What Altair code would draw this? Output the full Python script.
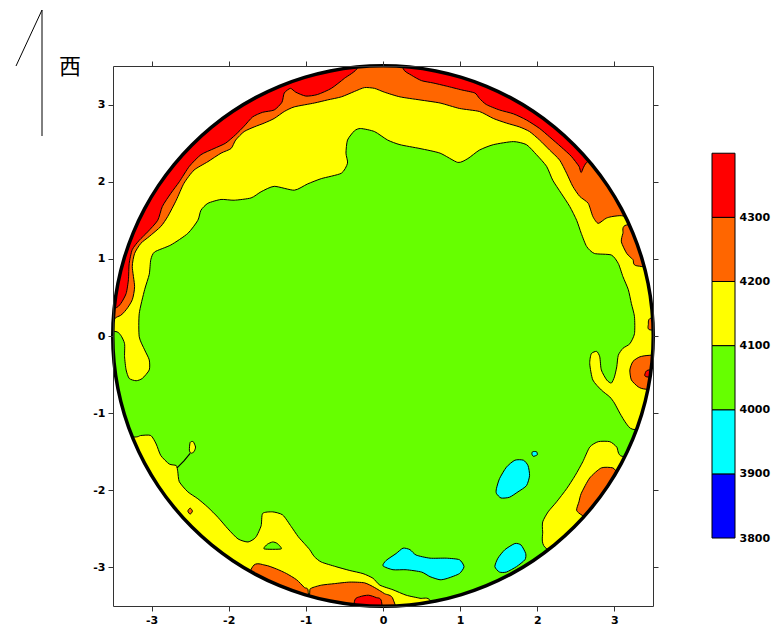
import altair as alt
import pandas as pd

# ---------------- colours / levels ----------------
RED, ORANGE, YELLOW, GREEN, CYAN, BLUE = "#FF0000", "#FF6600", "#FFFF00", "#66FF00", "#00FFFF", "#0000FF"
levels = [3800, 3900, 4000, 4100, 4200, 4300, 4400]
level_colors = [BLUE, CYAN, GREEN, YELLOW, ORANGE, RED]
tick_values = [-3, -2, -1, 0, 1, 2, 3]

# ---------------- contour regions (data units) ----------------
green_main = [
    (0.06, 2.54), (-0.11, 2.65), (-0.29, 2.69), (-0.37, 2.66), (-0.46, 2.54), (-0.48, 2.37), (-0.46, 2.24),
    (-0.54, 2.11), (-0.80, 2.04), (-0.98, 1.97), (-1.15, 1.89), (-1.41, 1.94), (-1.58, 1.87), (-1.71, 1.79),
    (-1.93, 1.76), (-2.10, 1.77), (-2.27, 1.72), (-2.36, 1.63), (-2.40, 1.50), (-2.53, 1.33), (-2.75, 1.18),
    (-2.96, 1.09), (-3.01, 0.99), (-3.03, 0.80), (-3.09, 0.60), (-3.16, 0.29), (-3.16, -0.01), (-3.09, -0.18),
    (-3.03, -0.31), (-3.03, -0.44), (-3.12, -0.55), (-3.20, -0.58), (-3.29, -0.55), (-3.33, -0.44),
    (-3.35, -0.27), (-3.35, -0.10), (-3.40, 0.01), (-3.48, 0.06), (-3.9, 0.05), (-3.9, -1.28), (-3.24, -1.31),
    (-3.14, -1.29), (-3.01, -1.29), (-2.94, -1.40), (-2.88, -1.55), (-2.77, -1.66), (-2.68, -1.68),
    (-2.66, -1.76), (-2.64, -1.89), (-2.53, -2.02), (-2.40, -2.11), (-2.27, -2.22), (-2.14, -2.35),
    (-2.01, -2.50), (-1.88, -2.63), (-1.75, -2.67), (-1.65, -2.61), (-1.58, -2.46), (-1.56, -2.30),
    (-1.43, -2.28), (-1.30, -2.32), (-1.19, -2.47), (-1.10, -2.60), (-1.02, -2.69), (-0.95, -2.77),
    (-0.89, -2.86), (-0.80, -2.93), (-0.61, -2.99), (-0.43, -3.04), (-0.26, -3.08), (-0.13, -3.14),
    (-0.04, -3.23), (0.13, -3.29), (0.30, -3.36), (0.48, -3.40), (0.61, -3.43), (0.7, -3.9), (1.7, -3.8),
    (2.6, -3.1), (2.10, -2.74), (2.07, -2.54), (2.07, -2.41), (2.14, -2.28), (2.25, -2.15), (2.38, -1.98),
    (2.49, -1.81), (2.59, -1.63), (2.68, -1.44), (2.79, -1.37), (2.94, -1.37), (3.03, -1.44), (3.10, -1.56),
    (3.6, -1.55), (3.6, -1.22), (3.24, -1.21), (3.15, -1.13), (3.07, -1.00), (3.00, -0.87), (2.94, -0.79),
    (2.83, -0.70), (2.72, -0.57), (2.68, -0.36), (2.70, -0.23), (2.77, -0.20), (2.81, -0.27), (2.83, -0.44),
    (2.90, -0.57), (2.96, -0.61), (3.00, -0.53), (3.03, -0.40), (3.05, -0.25), (3.11, -0.16), (3.20, -0.10),
    (3.26, 0.03), (3.26, 0.25), (3.22, 0.42), (3.18, 0.60), (3.11, 0.77), (3.05, 0.94), (2.96, 1.05),
    (2.74, 1.07), (2.64, 1.16), (2.57, 1.33), (2.51, 1.50), (2.42, 1.68), (2.31, 1.85), (2.20, 2.02),
    (2.12, 2.20), (1.99, 2.35), (1.86, 2.48), (1.69, 2.52), (1.43, 2.48), (1.25, 2.41), (1.10, 2.30),
    (0.97, 2.25), (0.74, 2.37), (0.48, 2.43), (0.22, 2.48),
]
green_isle = [(-1.54, -2.76), (-1.50, -2.70), (-1.43, -2.67), (-1.37, -2.69), (-1.32, -2.76)]

orange_top = [
    (-3.8, 0.25), (-3.44, 0.25), (-3.33, 0.34), (-3.25, 0.47), (-3.22, 0.64), (-3.25, 0.90), (-3.22, 1.07),
    (-3.14, 1.20), (-3.03, 1.29), (-2.88, 1.42), (-2.79, 1.55), (-2.68, 1.76), (-2.58, 1.98), (-2.45, 2.15),
    (-2.27, 2.26), (-2.10, 2.37), (-1.97, 2.43), (-1.91, 2.54), (-1.80, 2.65), (-1.67, 2.71), (-1.54, 2.76),
    (-1.41, 2.82), (-1.28, 2.91), (-1.15, 2.97), (-0.89, 3.02), (-0.72, 3.06), (-0.54, 3.10), (-0.37, 3.17),
    (-0.24, 3.22), (-0.11, 3.21), (0.02, 3.16), (0.22, 3.10), (0.48, 3.06), (0.74, 3.02), (0.99, 2.95),
    (1.25, 2.91), (1.43, 2.82), (1.60, 2.76), (1.77, 2.71), (1.90, 2.65), (2.03, 2.54), (2.16, 2.41),
    (2.29, 2.28), (2.38, 2.11), (2.46, 1.94), (2.55, 1.81), (2.66, 1.72), (2.72, 1.55), (2.79, 1.46),
    (2.90, 1.53), (3.07, 1.56), (3.8, 1.6), (3.8, 3.8), (-3.8, 3.8),
]
orange_right_top = [(3.16, 1.44), (3.11, 1.33), (3.09, 1.22), (3.16, 1.07), (3.24, 0.99), (3.29, 0.91),
                    (3.8, 0.9), (3.8, 1.45)]
orange_right_mid = [(3.46, -0.25), (3.33, -0.27), (3.24, -0.33), (3.20, -0.44), (3.22, -0.57), (3.31, -0.66),
                    (3.41, -0.69), (3.8, -0.7), (3.8, -0.25)]
orange_right_sliver = [(3.47, 0.23), (3.44, 0.15), (3.46, 0.08), (3.8, 0.08), (3.8, 0.23)]
orange_lower_right = [(2.59, -2.33), (2.51, -2.26), (2.54, -2.15), (2.57, -2.04), (2.68, -1.84), (2.83, -1.71),
                      (2.98, -1.71), (3.06, -1.78), (3.4, -1.9), (2.9, -2.5)]
orange_bottom_left = [(-1.69, -2.99), (-1.53, -2.97), (-1.38, -3.02), (-1.25, -3.08), (-1.12, -3.16),
                      (-1.02, -3.26), (-0.97, -3.31), (-1.0, -3.8), (-1.9, -3.6)]
orange_bottom_right = [(-0.95, -3.33), (-0.93, -3.27), (-0.80, -3.23), (-0.63, -3.21), (-0.43, -3.19),
                       (-0.24, -3.20), (-0.11, -3.26), (0.02, -3.34), (0.13, -3.41), (0.2, -3.9), (-0.95, -3.9)]
orange_dot = [(-2.50, -2.23), (-2.47, -2.27), (-2.50, -2.31), (-2.53, -2.27)]

red_top_left = [
    (-0.33, 3.48), (-0.50, 3.34), (-0.67, 3.21), (-0.85, 3.13), (-1.00, 3.11), (-1.13, 3.16), (-1.20, 3.21),
    (-1.28, 3.15), (-1.31, 3.03), (-1.41, 2.93), (-1.56, 2.90), (-1.69, 2.84), (-1.80, 2.72), (-1.91, 2.61),
    (-2.04, 2.50), (-2.19, 2.43), (-2.36, 2.35), (-2.51, 2.20), (-2.64, 2.00), (-2.75, 1.85), (-2.86, 1.68),
    (-2.92, 1.50), (-3.05, 1.35), (-3.16, 1.24), (-3.25, 1.12), (-3.29, 0.94), (-3.30, 0.73), (-3.33, 0.55),
    (-3.40, 0.42), (-3.48, 0.36), (-3.8, 0.35), (-3.8, 3.8), (-0.35, 3.8),
]
red_top_right = [
    (0.26, 3.47), (0.37, 3.38), (0.50, 3.31), (0.65, 3.28), (0.82, 3.24), (1.02, 3.19), (1.19, 3.15),
    (1.25, 3.08), (1.34, 3.00), (1.51, 2.93), (1.69, 2.88), (1.86, 2.80), (2.03, 2.69), (2.16, 2.58),
    (2.31, 2.45), (2.44, 2.33), (2.54, 2.20), (2.57, 2.12), (2.64, 2.25), (3.0, 2.6), (0.26, 3.8),
]
red_bottom = [(-0.37, -3.44), (-0.30, -3.38), (-0.19, -3.36), (-0.09, -3.39), (-0.02, -3.44), (0.0, -3.9),
              (-0.4, -3.9)]
red_right_dot = [(3.45, -0.44), (3.40, -0.48), (3.42, -0.53), (3.8, -0.55), (3.8, -0.43)]

yellow_isle = [(-2.50, -1.38), (-2.46, -1.37), (-2.43, -1.44), (-2.45, -1.50), (-2.49, -1.52), (-2.51, -1.48)]
yellow_filament = [(-2.67, -1.71), (-2.58, -1.62), (-2.50, -1.52)]

cyan_a = [(1.47, -1.98), (1.51, -1.85), (1.60, -1.70), (1.71, -1.61), (1.82, -1.61), (1.88, -1.68),
          (1.90, -1.81), (1.86, -1.94), (1.75, -2.02), (1.64, -2.09), (1.53, -2.10), (1.47, -2.04)]
cyan_dot = [(1.94, -1.50), (1.99, -1.50), (2.00, -1.54), (1.95, -1.56), (1.93, -1.53)]
cyan_b = [(0.00, -2.98), (0.04, -2.91), (0.17, -2.82), (0.26, -2.75), (0.35, -2.77), (0.43, -2.84),
          (0.61, -2.88), (0.82, -2.88), (0.99, -2.90), (1.05, -2.99), (0.99, -3.08), (0.84, -3.14),
          (0.74, -3.16), (0.61, -3.12), (0.50, -3.06), (0.30, -3.03), (0.13, -3.03)]
cyan_c = [(1.45, -2.99), (1.49, -2.88), (1.58, -2.77), (1.71, -2.69), (1.79, -2.71), (1.85, -2.82),
          (1.84, -2.90), (1.73, -2.99), (1.60, -3.06), (1.51, -3.06)]

wafer_center = pd.DataFrame({"x": [0.0], "y": [0.0]})

# ---------------- helpers ----------------
SCALE = alt.Scale(domain=[-3.5, 3.5], nice=False, zero=False)
FRAME = "#333333"
LABEL_FONT = "DejaVu Sans"


def frame(polys):
    rows = []
    for pid, pts in enumerate(polys):
        for i, (x, y) in enumerate(pts):
            rows.append({"pid": pid, "i": i, "x": x, "y": y})
    return pd.DataFrame(rows)


def xy(xaxis=None, yaxis=None):
    return dict(
        x=alt.X("x:Q", scale=SCALE, axis=xaxis, title=None),
        y=alt.Y("y:Q", scale=SCALE, axis=yaxis, title=None),
    )


def filled(polys, color):
    return alt.Chart(frame(polys)).mark_line(
        interpolate="cardinal-closed", tension=0.35, fill=color, stroke="black",
        strokeWidth=1, strokeJoin="round", clip=True,
    ).encode(detail="pid:N", order="i:Q", **xy())


def ring(r_out, r_in, color):
    return alt.Chart(wafer_center).mark_arc(
        theta=0, theta2=6.2832, radius=r_out, radius2=r_in, fill=color
    ).encode(**xy())


R = 270  # pixel radius of the 3.5-unit wafer in a 540 px plot

disc = alt.Chart(wafer_center).mark_arc(theta=0, theta2=6.2832, radius=R, fill=YELLOW).encode(**xy())
orange_l = filled([orange_top, orange_right_top, orange_right_mid, orange_right_sliver, orange_lower_right,
                   orange_bottom_left, orange_bottom_right, orange_dot], ORANGE)
red_l = filled([red_top_left, red_top_right, red_bottom, red_right_dot], RED)
green_l = filled([green_main, green_isle], GREEN)
yellow_l = filled([yellow_isle], YELLOW)
filament = alt.Chart(frame([yellow_filament])).mark_line(color="black", strokeWidth=1.2).encode(
    detail="pid:N", order="i:Q", **xy())
cyan_l = filled([cyan_a, cyan_dot, cyan_b, cyan_c], CYAN)
mask = ring(470, R, "white")
rim = ring(R + 2, R - 1.5, "black")

common_axis = dict(values=tick_values, tickSize=5, tickColor=FRAME, tickWidth=1, domainColor=FRAME,
                   domainWidth=1, grid=False, zindex=1, title=None)
label_style = dict(labelExpr="'' + datum.value", labelFont=LABEL_FONT, labelFontWeight="bold",
                   labelFontSize=11, labelColor="black", labelPadding=3)
x_bottom = alt.Axis(orient="bottom", **label_style, **common_axis)
y_left = alt.Axis(orient="left", **label_style, **common_axis)
x_top = alt.Axis(orient="top", labels=False, **common_axis)
y_right = alt.Axis(orient="right", labels=False, **common_axis)

axes_bl = alt.Chart(wafer_center).mark_point(opacity=0).encode(**xy(x_bottom, y_left))
axes_tr = alt.Chart(wafer_center).mark_point(opacity=0).encode(**xy(x_top, y_right))

# north-arrow style marker and the "西" label in the top-left corner
one = pd.DataFrame({"k": [0]})
deco1 = alt.Chart(one).mark_rule(color="black", strokeWidth=1).encode(
    x=alt.value(-97), y=alt.value(0), x2=alt.value(-71), y2=alt.value(-56))
deco2 = alt.Chart(one).mark_rule(color="black", strokeWidth=1).encode(
    x=alt.value(-71), y=alt.value(-56), x2=alt.value(-71), y2=alt.value(70))
deco_text = alt.Chart(one).mark_text(text="西", font="Noto Sans CJK SC", fontSize=22, color="black",
                                     align="center", baseline="middle").encode(
    x=alt.value(-43), y=alt.value(1))

main = alt.layer(
    disc, orange_l, red_l, green_l, yellow_l, filament, cyan_l, mask, rim,
    axes_bl, axes_tr, deco1, deco2, deco_text,
).resolve_axis(x="independent", y="independent")

# ---------------- colour bar ----------------
cbar_df = pd.DataFrame({"lo": levels[:-1], "hi": levels[1:], "c": level_colors})
cbar = alt.Chart(cbar_df).mark_rect(stroke="black", strokeWidth=1).encode(
    x=alt.value(599), x2=alt.value(622),
    y=alt.Y("lo:Q", scale=alt.Scale(domain=[3694, 4536], nice=False, zero=False),
            axis=alt.Axis(orient="right", offset=83, values=levels[:-1], domain=False, ticks=False,
                          labelExpr="'' + datum.value", zindex=1,
                          labelPadding=3, labelFont=LABEL_FONT, labelFontWeight="bold", labelFontSize=11,
                          labelColor="black", grid=False, title=None)),
    y2="hi:Q",
    fill=alt.Fill("c:N", scale=None),
)

chart = alt.layer(main, cbar).resolve_scale(y="independent").properties(
    width=540, height=540,
    autosize=alt.AutoSizeParams(type="none"),
    padding={"left": 105, "top": 58, "right": 120, "bottom": 22},
).configure_view(stroke=None)

chart.save("out.html", embed_options={"renderer": "svg", "actions": False})
